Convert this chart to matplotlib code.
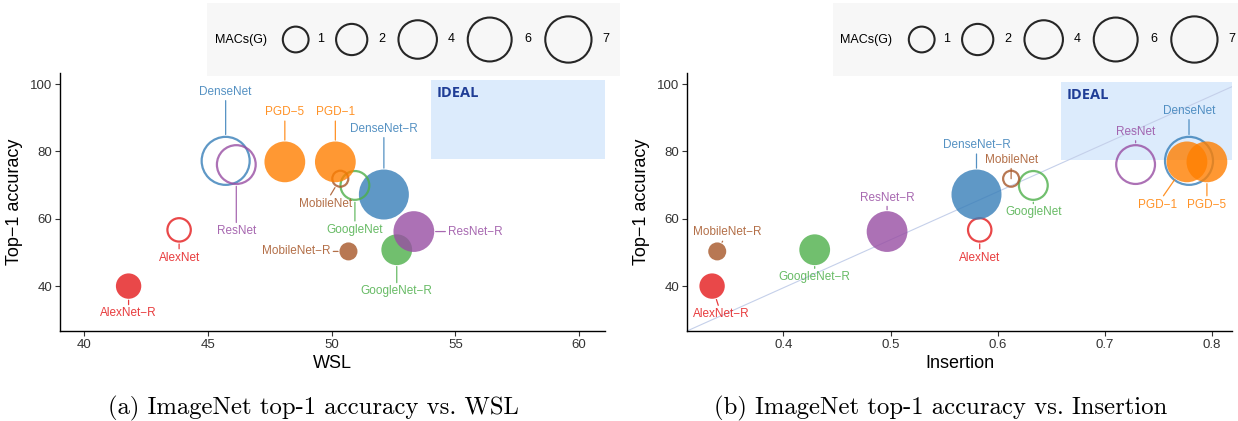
import numpy as np
import matplotlib
matplotlib.use("Agg")
import matplotlib.pyplot as plt
from matplotlib.patches import Rectangle

plt.rcParams['font.family'] = ['Liberation Sans', 'DejaVu Sans']

# data
models = ["AlexNet", "AlexNet-R", "DenseNet", "DenseNet-R", "GoogleNet", "GoogleNet-R",
          "MobileNet", "MobileNet-R", "PGD-1", "PGD-5", "ResNet", "ResNet-R"]
top1 = [56.7, 40.0, 77.2, 67.2, 69.9, 50.8, 71.9, 50.3, 76.9, 76.9, 76.1, 56.2]
macs = [0.7, 0.7, 7.8, 7.8, 1.5, 1.5, 0.3, 0.3, 4.1, 4.1, 4.1, 4.1]
robust = [False, True, False, True, False, True, False, True, True, True, False, True]
wsl = [43.84, 41.80, 45.72, 52.11, 50.94, 52.63, 50.35, 50.68, 50.15, 48.11, 46.15, 53.32]
insertion = [0.5832, 0.3336, 0.7784, 0.5802, 0.6332, 0.4293, 0.6125, 0.3384,
             0.7765, 0.7951, 0.7286, 0.4968]
legend_macs = [1, 2, 4, 6, 7]

family_colors = {
    "AlexNet": "#E41A1C", "DenseNet": "#377EB8", "GoogleNet": "#4DAF4A",
    "ResNet": "#984EA3", "PGD": "#FF7F00", "MobileNet": "#A65628",
}

# label offsets in pixels (dx right, dy up) as ggrepel put them
offsets_wsl = {
    "AlexNet": (0, -27.7), "AlexNet-R": (0, -27.3), "DenseNet": (0, 69),
    "DenseNet-R": (0, 65.7), "GoogleNet": (0, -44.3), "GoogleNet-R": (0, -41.7),
    "MobileNet": (-15, -25), "MobileNet-R": (-52.2, 0), "PGD-1": (0, 49.6),
    "PGD-5": (0, 49.6), "ResNet": (0, -66.7), "ResNet-R": (61.6, 0),
}
offsets_ins = {
    "AlexNet": (0, -27.7), "AlexNet-R": (9, -28), "DenseNet": (0, 50),
    "DenseNet-R": (0, 49.3), "GoogleNet": (0, -27), "GoogleNet-R": (0, -27.4),
    "MobileNet": (0, 19), "MobileNet-R": (10, 19), "PGD-1": (-29.6, -42.7),
    "PGD-5": (0, -42.7), "ResNet": (0, 32.6), "ResNet-R": (0, 34),
}

PX = 0.72  # points per pixel at dpi 100
D_MIN, D_MAX = 18, 50  # bubble diameter range in px
M_MIN, M_MAX = min(macs), max(macs)


def diam_px(v):
    return D_MIN + (D_MAX - D_MIN) * np.sqrt((v - M_MIN) / (M_MAX - M_MIN))


def base_color(name):
    return family_colors[name.split("-")[0]]


def draw_panel(ax, xvals, offsets, xlim, xticks, ideal, xlabel):
    ax.set_xlim(*xlim)
    ax.set_ylim(26.66, 103.3)
    ax.add_patch(Rectangle((ideal[0], ideal[1]), 10, ideal[2] - ideal[1],
                           facecolor="#dcebfc", edgecolor="none", zorder=0.5))
    ax.annotate("IDEAL", xy=(ideal[0], ideal[2]), xytext=(4.1, -4.1),
                textcoords="offset points", ha="left", va="top",
                family="Open Sans", fontweight="bold", fontsize=10.5,
                color="#1f3d96", zorder=1)

    for i, name in enumerate(models):
        col = base_color(name)
        d = diam_px(macs[i])
        if robust[i]:
            ax.scatter(xvals[i], top1[i], s=(d * PX) ** 2, color=col, alpha=0.8,
                       edgecolors="none", zorder=3)
        else:
            ax.scatter(xvals[i], top1[i], s=((d - 2) * PX) ** 2, facecolors="none",
                       edgecolors=col, linewidths=1.6, alpha=0.8, zorder=3)
        rad = d * PX / 2
        dx, dy = offsets[name]
        ax.annotate(name.replace("-", "\u2212"), xy=(xvals[i], top1[i]),
                    xytext=(dx * PX, dy * PX), textcoords="offset points",
                    ha="center", va="center", fontsize=8.5, color=col, alpha=0.85,
                    zorder=4,
                    arrowprops=dict(arrowstyle="-", color=col, alpha=0.85, lw=0.9,
                                    shrinkA=0, shrinkB=rad + 1))

    for sp in ["top", "right"]:
        ax.spines[sp].set_visible(False)
    for sp in ["left", "bottom"]:
        ax.spines[sp].set_linewidth(1.0)
    ax.set_xticks(xticks)
    ax.set_yticks([40, 60, 80, 100])
    ax.tick_params(length=3.5, width=0.8, color="#333333", labelsize=9.5,
                   labelcolor="#333333", pad=2)
    ax.set_xlabel(xlabel, fontsize=13, labelpad=3)
    ax.set_ylabel("Top\u22121 accuracy", fontsize=13, labelpad=5)


def draw_legend(rect):
    lg = fig.add_axes(rect)
    lg.set_facecolor("#f7f7f7")
    lg.set_xlim(0, 413)
    lg.set_ylim(0, 73)
    lg.set_xticks([])
    lg.set_yticks([])
    for sp in lg.spines.values():
        sp.set_visible(False)
    lg.text(7.5, 36.5, "MACs(G)", ha="left", va="center", fontsize=9)
    circ_x = [88.7, 144.7, 210.7, 282.7, 361.4]
    lab_x = [114, 174.5, 244, 321, 399]
    for v, cx, tx in zip(legend_macs, circ_x, lab_x):
        lg.scatter(cx, 36.5, s=((diam_px(v) - 2) * PX) ** 2, facecolors="none",
                   edgecolors="#262626", linewidths=1.5)
        lg.text(tx, 36.5, str(v), ha="center", va="center", fontsize=9)


fig = plt.figure(figsize=(12.38, 4.21), dpi=100)
W, H = 1238.0, 421.0
axL = fig.add_axes([60 / W, 1 - 331 / H, 545 / W, 258 / H])
axR = fig.add_axes([687 / W, 1 - 331 / H, 545 / W, 258 / H])

draw_panel(axL, wsl, offsets_wsl, (39.03, 61.04), [40, 45, 50, 55, 60],
           (54.03, 77.9, 101.2), "WSL")
axR.axline((0, 0), (1, 0.947), transform=axR.transAxes, color="#c5d0ea", lw=0.8, zorder=1)
draw_panel(axR, insertion, offsets_ins, (0.3102, 0.8185), [0.4, 0.5, 0.6, 0.7, 0.8],
           (0.6589, 77.4, 100.5), "Insertion")
axR.set_xticklabels(["0.4", "0.5", "0.6", "0.7", "0.8"])

draw_legend([207 / W, 1 - 76 / H, 413 / W, 73 / H])
draw_legend([833 / W, 1 - 76 / H, 413 / W, 73 / H])

fig.text(313 / W, 1 - 408 / H, "(a) ImageNet top-1 accuracy vs. WSL",
         family="cmr10", fontsize=17.8, ha="center", va="center")
fig.text(941 / W, 1 - 408 / H, "(b) ImageNet top-1 accuracy vs. Insertion",
         family="cmr10", fontsize=17.8, ha="center", va="center")

fig.savefig("out.png", dpi=100)
